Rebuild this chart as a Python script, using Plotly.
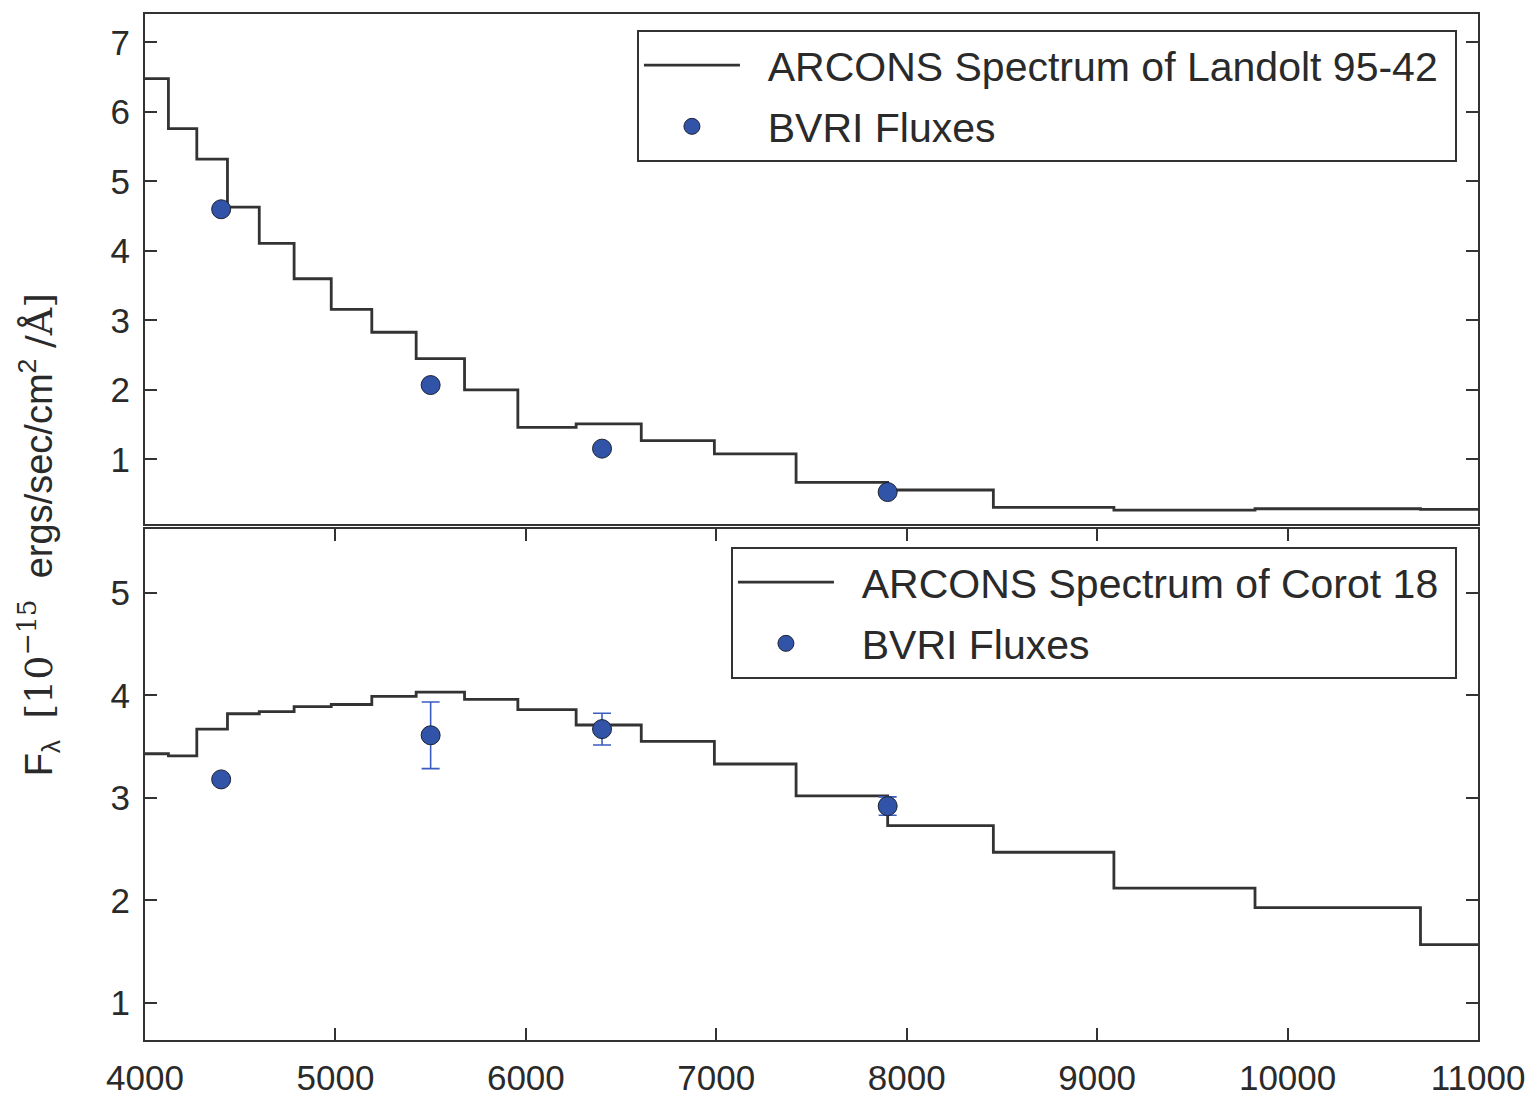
import plotly.graph_objects as go

# ---- data ----
bin_edges = [4000, 4123, 4272, 4433, 4600, 4783, 4978, 5191, 5424, 5678, 5958,
             6264, 6606, 6990, 7419, 7900, 8455, 9088, 9829, 10698, 11000]
landolt_flux = [6.48, 5.76, 5.32, 4.63, 4.11, 3.60, 3.16, 2.83, 2.45, 2.00,
                1.46, 1.51, 1.27, 1.08, 0.67, 0.56, 0.31, 0.27, 0.29, 0.28]
corot_flux = [3.43, 3.41, 3.67, 3.82, 3.84, 3.89, 3.91, 3.99, 4.03, 3.96,
              3.86, 3.71, 3.55, 3.33, 3.02, 2.73, 2.47, 2.12, 1.93, 1.57]
bvri_wavelength = [4400, 5500, 6400, 7900]
landolt_bvri = [4.60, 2.07, 1.155, 0.53]
corot_bvri = [3.18, 3.61, 3.67, 2.92]
corot_bvri_err = [0.0, 0.325, 0.155, 0.09]

x_ticks = [4000, 5000, 6000, 7000, 8000, 9000, 10000, 11000]
x_ticklabels = ["4000", "5000", "6000", "7000", "8000", "9000", "10000", "11000"]
top_yticks = [1, 2, 3, 4, 5, 6, 7]
bot_yticks = [1, 2, 3, 4, 5]

LINE = "#333333"
TEXT = "#2a2a2a"
DOT = "#3153a8"
FONT = "Liberation Sans, Arial, sans-serif"
GAP = "\u00a0\u00a0"
TAIL = "\u00a0"

fig = go.Figure()

# top panel
fig.add_trace(go.Scatter(
    x=bin_edges, y=landolt_flux + [landolt_flux[-1]], mode="lines", line_shape="hv",
    line=dict(color=LINE, width=2.8), name=GAP + "ARCONS Spectrum of Landolt 95-42" + TAIL,
    xaxis="x", yaxis="y", legend="legend", legendgroup="a"))
fig.add_trace(go.Scatter(
    x=bvri_wavelength, y=landolt_bvri, mode="markers",
    marker=dict(color=DOT, size=19, line=dict(color="#1c2233", width=1)),
    name=GAP + "BVRI Fluxes", xaxis="x", yaxis="y", legend="legend", legendgroup="b"))

# bottom panel
fig.add_trace(go.Scatter(
    x=bin_edges, y=corot_flux + [corot_flux[-1]], mode="lines", line_shape="hv",
    line=dict(color=LINE, width=2.8), name=GAP + "ARCONS Spectrum of Corot 18" + TAIL,
    xaxis="x2", yaxis="y2", legend="legend2", legendgroup="c"))
fig.add_trace(go.Scatter(
    x=bvri_wavelength, y=corot_bvri, mode="markers",
    marker=dict(color=DOT, size=19, line=dict(color="#1c2233", width=1)),
    error_y=dict(type="data", array=corot_bvri_err, color="#3a5cc0", thickness=1.6, width=9),
    name=GAP + "BVRI Fluxes", xaxis="x2", yaxis="y2", legend="legend2", legendgroup="d"))

axis_common = dict(showline=True, linecolor=LINE, linewidth=2, mirror="ticks",
                   showgrid=False, zeroline=False, ticks="inside", ticklen=12,
                   tickwidth=1.5, tickcolor=LINE,
                   tickfont=dict(family=FONT, size=35, color=TEXT))

legend_common = dict(font=dict(family=FONT, size=41, color=TEXT),
                     bgcolor="white", bordercolor=LINE, borderwidth=2,
                     xanchor="right", yanchor="top", xref="paper", yref="paper",
                     tracegroupgap=5, itemwidth=96)

fig.update_layout(
    width=1538, height=1109,
    margin=dict(l=145, r=60, t=12, b=67),
    paper_bgcolor="white", plot_bgcolor="white",
    font=dict(family=FONT, color=TEXT),
    xaxis=dict(axis_common, range=[4000, 11000], domain=[0, 1], anchor="y",
               showticklabels=False, ticks="", tickvals=x_ticks),
    yaxis=dict(axis_common, range=[0.07, 7.41], domain=[0.5029, 1], anchor="x",
               tickvals=top_yticks, ticklabelstandoff=6),
    xaxis2=dict(axis_common, range=[4000, 11000], domain=[0, 1], anchor="y2",
                tickvals=x_ticks, ticktext=x_ticklabels, ticklabelstandoff=6),
    yaxis2=dict(axis_common, range=[0.64, 5.62], domain=[0, 0.498], anchor="x2",
                tickvals=bot_yticks, ticklabelstandoff=6),
    legend=dict(legend_common, x=0.9842, y=0.9845),
    legend2=dict(legend_common, x=0.9842, y=0.4806),
    showlegend=True,
)

fig.add_annotation(
    xref="paper", yref="paper", x=-0.080, y=0.4922, xanchor="center", yanchor="middle",
    textangle=-90, showarrow=False,
    font=dict(family=FONT, size=38, color=TEXT),
    text=("F<sub>λ</sub>  <span style=\"font-family:'DejaVu Serif'\">[10<sup>−15</sup></span>"
          "  ergs/sec/cm<sup>2</sup> <span style=\"font-family:'DejaVu Serif'\">/Å]</span>"))

fig.write_html("out.html")
